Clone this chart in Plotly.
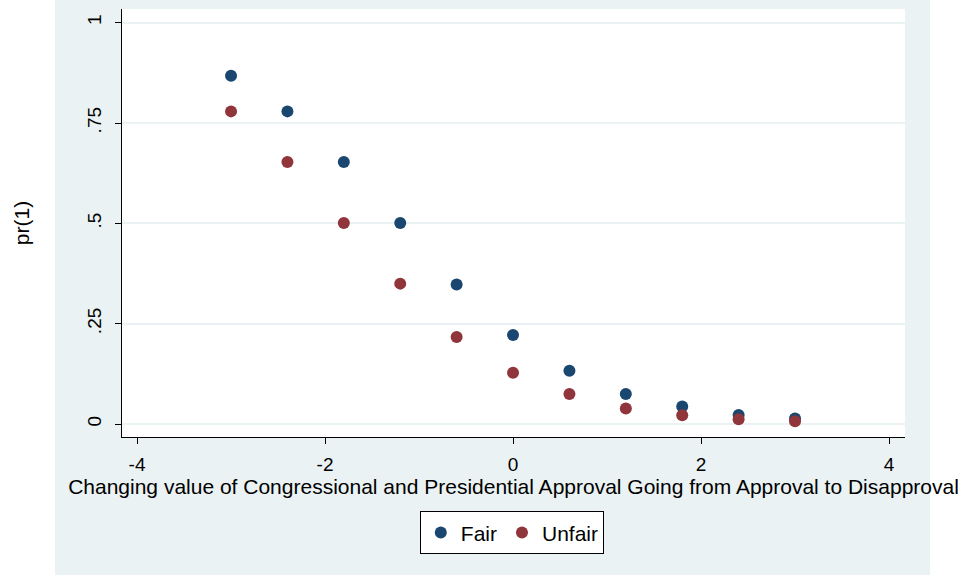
import plotly.graph_objects as go

# Data
x_vals = [-3, -2.4, -1.8, -1.2, -0.6, 0, 0.6, 1.2, 1.8, 2.4, 3]
fair = [0.868, 0.779, 0.653, 0.501, 0.348, 0.222, 0.133, 0.075, 0.044, 0.023, 0.014]
unfair = [0.779, 0.653, 0.501, 0.350, 0.217, 0.128, 0.075, 0.039, 0.022, 0.012, 0.007]
y_ticks = [0, 0.25, 0.5, 0.75, 1]
y_tick_labels = ["0", ".25", ".5", ".75", "1"]
x_ticks = [-4, -2, 0, 2, 4]
x_tick_labels = ["-4", "-2", "0", "2", "4"]

W, H = 958, 575
ML, MR, MT, MB = 122, 53, 9, 138
pw, ph = W - ML - MR, H - MT - MB

def px_x(p):
    return (p - ML) / pw

def px_y(p):
    return (H - MB - p) / ph

BLUE = "#1A476F"
RED = "#90353B"
BG = "#EAF2F3"
FONT = "Liberation Sans, Arial, sans-serif"

fig = go.Figure()
fig.add_trace(go.Scatter(x=x_vals, y=fair, mode="markers", name="Fair",
                         marker=dict(color=BLUE, size=12)))
fig.add_trace(go.Scatter(x=x_vals, y=unfair, mode="markers", name="Unfair",
                         marker=dict(color=RED, size=12)))

fig.update_layout(
    width=W, height=H,
    margin=dict(l=ML, r=MR, t=MT, b=MB, pad=0),
    paper_bgcolor="white",
    plot_bgcolor="white",
    font=dict(family=FONT, color="black", size=19),
    showlegend=True,
    legend=dict(orientation="h", x=px_x(512), xanchor="center", y=px_y(511), yanchor="top",
                bgcolor="white", bordercolor="black", borderwidth=1.3,
                font=dict(size=21), itemsizing="constant"),
    shapes=[
        dict(type="rect", xref="paper", yref="paper", layer="below",
             x0=px_x(55), x1=px_x(930), y0=px_y(575), y1=px_y(0),
             fillcolor=BG, line=dict(width=0)),
        dict(type="rect", xref="paper", yref="paper", layer="below",
             x0=0, x1=1, y0=0, y1=1, fillcolor="white", line=dict(width=0)),
    ],
)

fig.update_xaxes(
    range=[-4.16, 4.17], tickvals=x_ticks, ticktext=x_tick_labels,
    showgrid=False, zeroline=False, showline=True, linecolor="black", linewidth=1.3,
    ticks="outside", ticklen=6, tickcolor="black", tickwidth=1.3,
    tickfont=dict(size=19), ticklabelstandoff=4,
    title=dict(text="Changing value of Congressional and Presidential Approval Going from Approval to Disapproval",
               font=dict(size=21), standoff=4),
)
fig.update_yaxes(
    range=[-0.032, 1.034], tickvals=y_ticks, ticktext=y_tick_labels, tickangle=-90,
    showgrid=True, gridcolor=BG, gridwidth=1.5, zeroline=False,
    showline=True, linecolor="black", linewidth=1.3,
    ticks="outside", ticklen=6, tickcolor="black", tickwidth=1.3,
    tickfont=dict(size=19), ticklabelstandoff=6,
    title=dict(text="pr(1)", font=dict(size=21), standoff=48),
)

fig.write_html("out.html")
